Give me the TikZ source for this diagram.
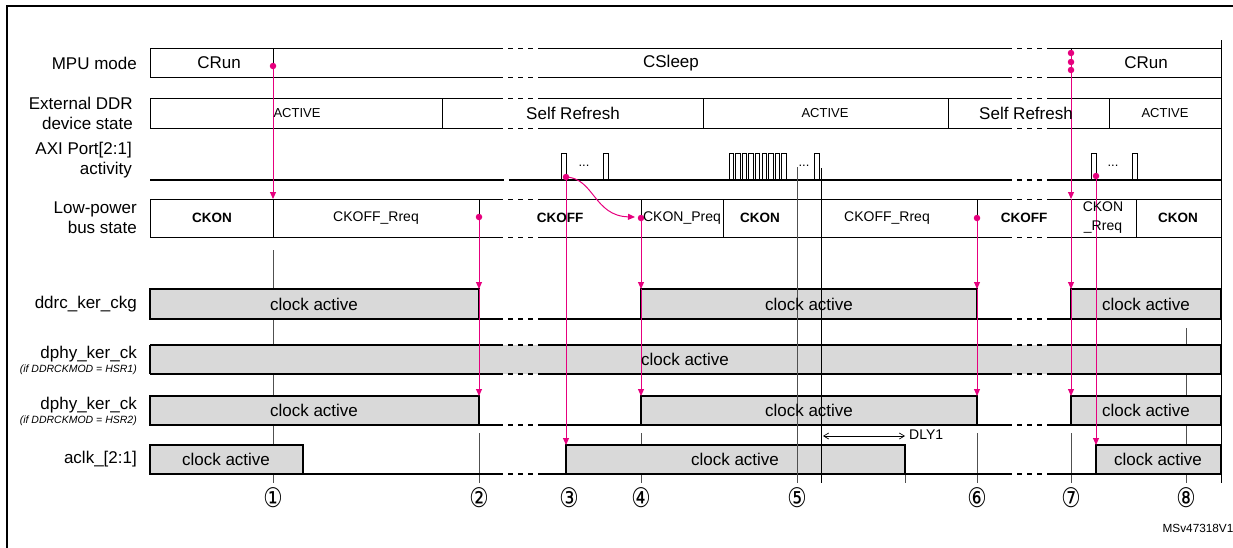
\documentclass[tikz,border=0pt]{standalone}
\usepackage{fontspec}
\setmainfont{Liberation Sans}
\newfontfamily\dejavu{DejaVu Sans}
\usetikzlibrary{arrows.meta}
\definecolor{pinkST}{RGB}{230,0,126}
\definecolor{clk}{RGB}{217,217,217}
\definecolor{gline}{RGB}{80,80,80}
\newcommand\fline[2][]{%
  \draw[#1] (150,#2) -- (503,#2) (538,#2) -- (1012,#2) (1047,#2) -- (1221,#2);
  \draw[#1,dash pattern=on 5pt off 5pt] (508,#2) -- (533,#2) (1017,#2) -- (1042,#2);}
\newcommand\gdA[2][]{\draw[#1,dash pattern=on 5pt off 5pt] (508,#2) -- (533,#2);}
\newcommand\gdB[2][]{\draw[#1,dash pattern=on 5pt off 5pt] (1017,#2) -- (1042,#2);}
\begin{document}
\begin{tikzpicture}[x=1pt,y=-1pt,
  rowline/.style={draw=black, line width=1pt},
  clkline/.style={draw=black, line width=1.8pt},
  clkbox/.style={draw=black, fill=clk, line width=1.8pt},
  lbl/.style={anchor=east, align=right, font=\fontsize{17}{20}\selectfont, inner sep=0pt},
  sublbl/.style={anchor=east, font=\fontsize{10.5}{12}\selectfont\itshape, inner sep=0pt},
  big/.style={font=\fontsize{17}{20}\selectfont, inner sep=0pt},
  smalltxt/.style={font=\fontsize{13}{15}\selectfont, inner sep=0pt},
  bus/.style={font=\fontsize{14}{16}\selectfont, inner sep=0pt, align=center},
  busb/.style={font=\fontsize{13.5}{16}\selectfont\bfseries, inner sep=0pt},
  pk/.style={draw=pinkST, line width=1pt},
  pka/.style={pk, -{Triangle[length=7pt,width=6pt]}},
  pdot/.style={circle, fill=pinkST, inner sep=0pt, minimum size=6.5pt},
  gl/.style={draw=gline, line width=0.8pt},
  pulse/.style={draw=black, line width=0.9pt},
  num/.style={font=\fontsize{27}{28}\dejavu, inner sep=0pt, xscale=0.8},
]
\useasboundingbox (0,0) rectangle (1233,547);
% frame
\draw[line width=2.5pt] (7,600) -- (7,6) -- (1260,6);
\draw[line width=0.8pt] (1221,40) -- (1221,483);

% background grey lines
\draw[gl] (273,250) -- (273,483);
\draw[gl] (479,433) -- (479,483);
\draw[gl] (641,433) -- (641,483);
\draw[gl] (977,433) -- (977,483);
\draw[gl] (1071,433) -- (1071,483);
\draw[gl] (1186,328) -- (1186,483);
\draw[gl] (905,445) -- (905,483);

% MPU row
\fline[rowline]{48}
\fline[rowline]{77}
\draw[rowline] (150,48) -- (150,77) (273,48) -- (273,77) (1071,48) -- (1071,77);
% DDR row
\fline[rowline]{98}
\fline[rowline]{128}
\draw[rowline] (150,98) -- (150,128) (442,98) -- (442,128) (703,98) -- (703,128)
  (948,98) -- (948,128) (1109,98) -- (1109,128);
% Bus row
\fline[rowline]{199}
\fline[rowline]{237}
\draw[rowline] (150,199) -- (150,237) (273,199) -- (273,237) (479,199) -- (479,237)
  (641,199) -- (641,237) (723,199) -- (723,237) (977,199) -- (977,237)
  (1071,199) -- (1071,237) (1136,199) -- (1136,237);

% AXI activity
\draw[line width=2.2pt] (150,180) -- (504,180) (509,180) -- (1012,180) (1047,180) -- (1221,180);
\gdB[line width=2.2pt]{180}
\draw[pulse] (561,180) -- (561,153) -- (566,153) -- (566,180);
\draw[pulse] (603,180) -- (603,153) -- (608,153) -- (608,180);
\foreach \i in {0,...,8} \draw[pulse] ({729+6.6*\i},180) -- ++(0,-27) -- ++(4.5,0) -- ++(0,27);
\draw[pulse] (814,180) -- (814,153) -- (819,153) -- (819,180);
\draw[pulse] (1091,180) -- (1091,153) -- (1096,153) -- (1096,180);
\draw[pulse] (1132,180) -- (1132,153) -- (1137,153) -- (1137,180);

% ddrc_ker_ckg
\draw[clkbox] (150,289) rectangle (479,319);
\draw[clkbox] (641,289) rectangle (977,319);
\draw[clkbox] (1071,289) rectangle (1221,319);
\draw[clkline] (479,319) -- (503,319) (538,319) -- (641,319) (977,319) -- (1012,319) (1047,319) -- (1071,319);
\gdA[clkline]{319} \gdB[clkline]{319}
% dphy HSR1
\fill[clk] (150,345) rectangle (1221,374);
\fline[clkline]{345}
\fline[clkline]{374}
\draw[clkline] (150,345) -- (150,374) (1221,345) -- (1221,374);
% dphy HSR2
\draw[clkbox] (150,396) rectangle (479,425);
\draw[clkbox] (641,396) rectangle (977,425);
\draw[clkbox] (1071,396) rectangle (1221,425);
\draw[clkline] (479,425) -- (503,425) (538,425) -- (641,425) (977,425) -- (1012,425) (1047,425) -- (1071,425);
\gdA[clkline]{425} \gdB[clkline]{425}
% aclk
\draw[clkbox] (150,445) rectangle (303,474);
\draw[clkbox] (566,445) rectangle (905,474);
\draw[clkbox] (1096,445) rectangle (1221,474);
\draw[clkline] (303,474) -- (503,474) (538,474) -- (566,474) (905,474) -- (1012,474) (1047,474) -- (1096,474);
\gdA[clkline]{474} \gdB[clkline]{474}

% front grey lines
\draw[gl] (797,167) -- (797,483);
\draw[line width=0.8pt] (821,168) -- (821,483);

% DLY1
\coordinate (dlyA) at (823,436);
\coordinate (dlyB) at (905,436);
\draw[line width=0.7pt, {Straight Barb[length=5pt,width=6pt]}-{Straight Barb[length=5pt,width=6pt]}] (dlyA) -- (dlyB);
\node[font=\fontsize{14}{16}\selectfont, inner sep=0pt, anchor=west] (dly) at (909,435) {DLY1};

% pink connectors
\node[pdot] (d1) at (273,66) {};
\node[pdot] (d2) at (479,217) {};
\node[pdot] (d3) at (566,177) {};
\node[pdot] (d4) at (641,218) {};
\node[pdot] (d6) at (977,218) {};
\node[pdot] (d7a) at (1071,53) {};
\node[pdot] (d7b) at (1071,62) {};
\node[pdot] (d7c) at (1071,70) {};
\node[pdot] (d8) at (1096,176) {};
\coordinate (b1) at (273,199);
\coordinate (k2) at (479,289); \coordinate (h2) at (479,396);
\coordinate (a3) at (566,445); \coordinate (p4) at (635,217);
\coordinate (k4) at (641,289); \coordinate (h4) at (641,396);
\coordinate (k6) at (977,289); \coordinate (h6) at (977,396);
\coordinate (b7) at (1071,199); \coordinate (k7) at (1071,289); \coordinate (h7) at (1071,396);
\coordinate (a8) at (1096,445);
\draw[pka] (d1.center) -- (b1);
\draw[pka] (d2.center) -- (k2); \draw[pka] (k2) -- (h2);
\draw[pka] (d3.center) -- (a3);
\draw[pka] (d3.center) .. controls (594,178) and (594,216) .. (p4);
\draw[pka] (d4.center) -- (k4); \draw[pka] (k4) -- (h4);
\draw[pka] (d6.center) -- (k6); \draw[pka] (k6) -- (h6);
\draw[pka] (d7a.center) -- (b7); \draw[pka] (b7) -- (k7); \draw[pka] (k7) -- (h7);
\draw[pka] (d8.center) -- (a8);

% labels
\node[lbl] (lmpu) at (137,63) {MPU mode};
\node[lbl] (lddr) at (133,113) {External DDR\\device state};
\node[lbl] (laxi) at (132,160) {AXI Port[2:1]\\activity};
\node[lbl] (lbus) at (137,218) {Low-power\\bus state};
\node[lbl] (lddrc) at (137,304) {ddrc\_ker\_ckg};
\node[lbl] (lhsr1) at (137,354) {dphy\_ker\_ck};
\node[sublbl] (shsr1) at (137,370) {(if DDRCKMOD = HSR1)};
\node[lbl] (lhsr2) at (137,405) {dphy\_ker\_ck};
\node[sublbl] (shsr2) at (137,421) {(if DDRCKMOD = HSR2)};
\node[lbl] (laclk) at (137,459) {aclk\_[2:1]};

% MPU texts
\node[big] (m1) at (219,63) {CRun};
\node[big] (m2) at (671,63) {CSleep};
\node[big] (m3) at (1146,63) {CRun};
% DDR texts
\node[smalltxt] (e1) at (297,113) {ACTIVE};
\node[big] (e2) at (573,113) {Self Refresh};
\node[smalltxt] (e3) at (825,113) {ACTIVE};
\node[big] (e4) at (1026,113) {Self Refresh};
\node[smalltxt] (e5) at (1165,113) {ACTIVE};
% AXI dots
\node[smalltxt] (x1) at (584,166) {...};
\node[smalltxt] (x2) at (804,166) {...};
\node[smalltxt] (x3) at (1113,166) {...};
% bus texts
\node[busb] (s1) at (212,218) {CKON};
\node[bus] (s2) at (376,218) {CKOFF\_Rreq};
\node[busb] (s3) at (560,218) {CKOFF};
\node[bus] (s4) at (682,218) {CKON\_Preq};
\node[busb] (s5) at (760,218) {CKON};
\node[bus] (s6) at (887,218) {CKOFF\_Rreq};
\node[busb] (s7) at (1024,218) {CKOFF};
\node[bus, font=\fontsize{14}{19}\selectfont] (s8) at (1103,218) {CKON\\\_Rreq};
\node[busb] (s9) at (1178,218) {CKON};
% clock texts
\node[big] (c1) at (314,304) {clock active};
\node[big] (c2) at (809,304) {clock active};
\node[big] (c3) at (1146,304) {clock active};
\node[big] (c4) at (685,359) {clock active};
\node[big] (c5) at (314,410) {clock active};
\node[big] (c6) at (809,410) {clock active};
\node[big] (c7) at (1146,410) {clock active};
\node[big] (c8) at (226,459) {clock active};
\node[big] (c9) at (735,459) {clock active};
\node[big] (c10) at (1158,459) {clock active};
% numbers
\node[num] (n1) at (273,498) {①};
\node[num] (n2) at (479,498) {②};
\node[num] (n3) at (569,498) {③};
\node[num] (n4) at (641,498) {④};
\node[num] (n5) at (797,498) {⑤};
\node[num] (n6) at (977,498) {⑥};
\node[num] (n7) at (1071,498) {⑦};
\node[num] (n8) at (1186,498) {⑧};
\node[font=\fontsize{11.8}{13}\selectfont, inner sep=0pt] (ms) at (1198,528) {MSv47318V1};
\end{tikzpicture}
\end{document}
